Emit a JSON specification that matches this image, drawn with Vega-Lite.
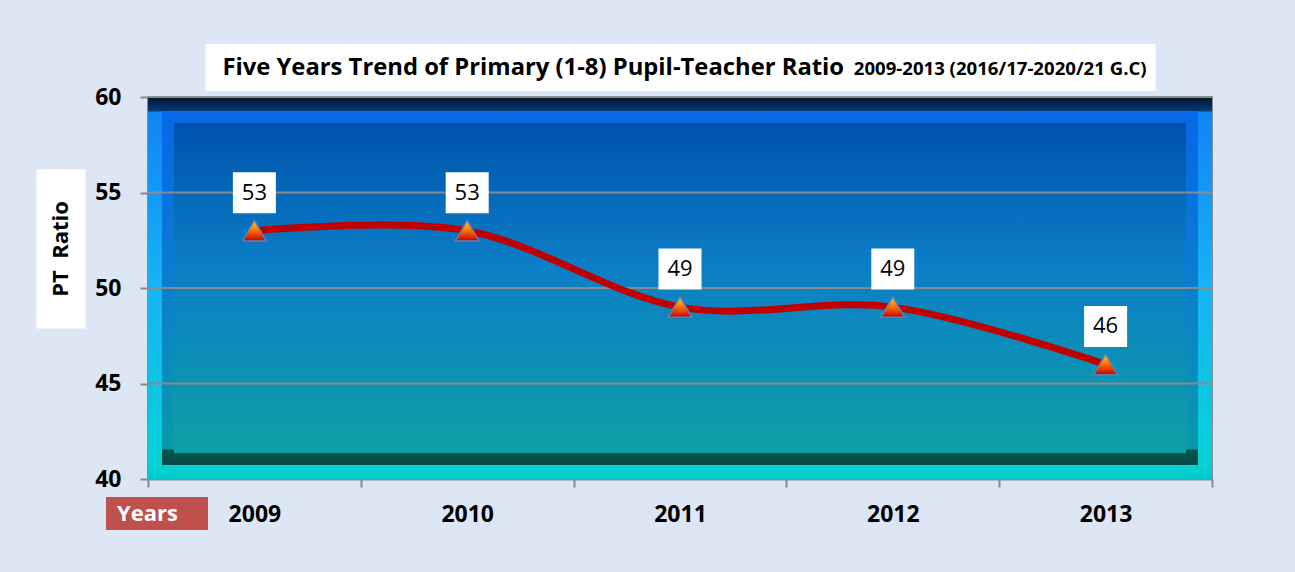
{
  "$schema": "https://vega.github.io/schema/vega-lite/v6.json",
  "width": 1064,
  "height": 382,
  "autosize": {"type": "none"},
  "padding": {"left": 148, "top": 97, "right": 83, "bottom": 93},
  "background": "#dce6f5",
  "config": {
    "view": {"stroke": "#8a8a8a", "strokeWidth": 2},
    "font": "Open Sans"
  },
  "datasets": {
    "ptr": [
      {"year": "2009", "ratio": 53},
      {"year": "2010", "ratio": 53},
      {"year": "2011", "ratio": 49},
      {"year": "2012", "ratio": 49},
      {"year": "2013", "ratio": 46}
    ],
    "grid": [{"v": 45}, {"v": 50}, {"v": 55}, {"v": 60}]
  },
  "layer": [
    {
      "data": {"values": [{"panel": "plot"}]},
      "mark": {
        "type": "rect",
        "clip": true,
        "strokeWidth": 52,
        "fill": {"gradient": "linear", "x1": 0, "y1": 0, "x2": 0, "y2": 1,
          "stops": [
            {"offset": 0, "color": "#004a9e"},
            {"offset": 0.07, "color": "#0052ad"},
            {"offset": 0.45, "color": "#0b7fc6"},
            {"offset": 0.93, "color": "#0e9fa6"},
            {"offset": 1, "color": "#0e9fa6"}
          ]},
        "stroke": {"gradient": "linear", "x1": 0, "y1": 0, "x2": 0, "y2": 1,
          "stops": [
            {"offset": 0, "color": "#0a6ff2"},
            {"offset": 0.07, "color": "#0868e6"},
            {"offset": 0.5, "color": "#0a7ecf"},
            {"offset": 0.92, "color": "#0a9aa8"},
            {"offset": 0.925, "color": "#06544e"},
            {"offset": 1, "color": "#043f3b"}
          ]}
      },
      "encoding": {
        "y": {"datum": 60, "type": "quantitative"},
        "y2": {"datum": 40}
      }
    },
    {
      "data": {"values": [{"panel": "frame"}]},
      "mark": {
        "type": "rect",
        "clip": true,
        "strokeWidth": 28,
        "fill": null,
        "fillOpacity": 0,
        "stroke": {"gradient": "linear", "x1": 0, "y1": 0, "x2": 0, "y2": 1,
          "stops": [
            {"offset": 0, "color": "#00142e"},
            {"offset": 0.036, "color": "#093a76"},
            {"offset": 0.04, "color": "#1184f5"},
            {"offset": 0.5, "color": "#16b4f5"},
            {"offset": 0.96, "color": "#05d2d8"},
            {"offset": 1, "color": "#00c8c8"}
          ]}
      },
      "encoding": {
        "y": {"datum": 60, "type": "quantitative"},
        "y2": {"datum": 40}
      }
    },
    {
      "data": {"name": "grid"},
      "mark": {"type": "rule", "color": "#8a8a8a", "strokeWidth": 2},
      "encoding": {"y": {"field": "v", "type": "quantitative"}}
    },
    {
      "data": {"name": "ptr"},
      "mark": {"type": "line", "interpolate": "cardinal", "color": "#c00000", "strokeWidth": 7},
      "encoding": {
        "x": {
          "field": "year", "type": "ordinal",
          "scale": {"paddingInner": 0, "paddingOuter": 0},
          "axis": {
            "title": null,
            "labelAngle": 0,
            "tickBand": "extent",
            "labelFont": "Open Sans",
            "labelFontSize": 23,
            "labelFontWeight": "bold",
            "labelColor": "#000000",
            "labelPadding": 16,
            "tickSize": 8,
            "tickWidth": 2,
            "tickColor": "#8a8a8a",
            "domainColor": "#8a8a8a",
            "domainWidth": 2
          }
        },
        "y": {
          "field": "ratio", "type": "quantitative",
          "scale": {"domain": [40, 60], "nice": false, "zero": false},
          "axis": {
            "title": null,
            "values": [40, 45, 50, 55, 60],
            "grid": false,
            "labelFont": "Open Sans",
            "labelFontSize": 23,
            "labelFontWeight": "bold",
            "labelColor": "#000000",
            "labelPadding": 19,
            "tickSize": 8,
            "tickWidth": 2,
            "tickColor": "#8a8a8a",
            "domainColor": "#8a8a8a",
            "domainWidth": 2
          }
        }
      }
    },
    {
      "data": {"name": "ptr"},
      "mark": {
        "type": "point",
        "shape": "triangle-up",
        "size": 560,
        "filled": true,
        "opacity": 1,
        "fill": {"gradient": "linear", "x1": 0, "y1": 0, "x2": 0, "y2": 1,
          "stops": [
            {"offset": 0, "color": "#ffd21a"},
            {"offset": 0.45, "color": "#ff7a00"},
            {"offset": 1, "color": "#c80000"}
          ]},
        "stroke": "#5f7fb8",
        "strokeWidth": 1.5
      },
      "encoding": {
        "x": {"field": "year", "type": "ordinal"},
        "y": {"field": "ratio", "type": "quantitative"}
      }
    },
    {
      "data": {"name": "ptr"},
      "mark": {
        "type": "point",
        "shape": "M-1,-0.953L1,-0.953L1,0.953L-1,0.953Z",
        "size": 1849,
        "filled": true,
        "opacity": 1,
        "color": "#ffffff",
        "yOffset": -38
      },
      "encoding": {
        "x": {"field": "year", "type": "ordinal"},
        "y": {"field": "ratio", "type": "quantitative"}
      }
    },
    {
      "data": {"name": "ptr"},
      "mark": {
        "type": "text",
        "font": "Open Sans",
        "fontSize": 22,
        "color": "#000000",
        "baseline": "middle",
        "align": "center",
        "yOffset": -38
      },
      "encoding": {
        "x": {"field": "year", "type": "ordinal"},
        "y": {"field": "ratio", "type": "quantitative"},
        "text": {"field": "ratio", "type": "quantitative"}
      }
    },
    {
      "data": {"values": [{"box": "title"}]},
      "mark": {
        "type": "point",
        "shape": "M-1,-0.0495L1,-0.0495L1,0.0495L-1,0.0495Z",
        "size": 902500,
        "filled": true,
        "opacity": 1,
        "color": "#ffffff",
        "xOffset": 0.6,
        "yOffset": -29.5
      },
      "encoding": {
        "x": {"datum": "2011"},
        "y": {"datum": 60}
      }
    },
    {
      "data": {"values": [{"t": "Five Years Trend of Primary (1-8) Pupil-Teacher Ratio"}]},
      "mark": {
        "type": "text",
        "font": "Open Sans",
        "fontSize": 23.8,
        "fontWeight": "bold",
        "color": "#000000",
        "align": "left",
        "baseline": "middle",
        "xOffset": -32,
        "yOffset": -29
      },
      "encoding": {
        "x": {"datum": "2009"},
        "y": {"datum": 60},
        "text": {"field": "t"}
      }
    },
    {
      "data": {"values": [{"t": "2009-2013 (2016/17-2020/21 G.C)"}]},
      "mark": {
        "type": "text",
        "font": "Open Sans",
        "fontSize": 18.6,
        "fontWeight": "bold",
        "color": "#000000",
        "align": "right",
        "baseline": "middle",
        "xOffset": 41,
        "yOffset": -28.5
      },
      "encoding": {
        "x": {"datum": "2013"},
        "y": {"datum": 60},
        "text": {"field": "t"}
      }
    },
    {
      "data": {"values": [{"box": "years"}]},
      "mark": {
        "type": "point",
        "shape": "M-1,-0.3235L1,-0.3235L1,0.3235L-1,0.3235Z",
        "size": 10404,
        "filled": true,
        "opacity": 1,
        "color": "#c0504d",
        "xOffset": -97.4,
        "yOffset": 34.5
      },
      "encoding": {
        "x": {"datum": "2009"},
        "y": {"datum": 40}
      }
    },
    {
      "data": {"values": [{"t": "Years"}]},
      "mark": {
        "type": "text",
        "font": "Open Sans",
        "fontSize": 22,
        "fontWeight": "bold",
        "color": "#ffffff",
        "align": "left",
        "baseline": "middle",
        "xOffset": -137.4,
        "yOffset": 35
      },
      "encoding": {
        "x": {"datum": "2009"},
        "y": {"datum": 40},
        "text": {"field": "t"}
      }
    },
    {
      "data": {"values": [{"box": "ylabel"}]},
      "mark": {
        "type": "point",
        "shape": "M-0.308,-1L0.308,-1L0.308,1L-0.308,1Z",
        "size": 25281,
        "filled": true,
        "opacity": 1,
        "color": "#ffffff",
        "xOffset": -193.4,
        "yOffset": -39
      },
      "encoding": {
        "x": {"datum": "2009"},
        "y": {"datum": 50}
      }
    },
    {
      "data": {"values": [{"t": "PT \u00a0Ratio"}]},
      "mark": {
        "type": "text",
        "font": "Open Sans",
        "fontSize": 22,
        "fontWeight": "bold",
        "color": "#000000",
        "align": "center",
        "baseline": "middle",
        "angle": 270,
        "xOffset": -193.4,
        "yOffset": -39
      },
      "encoding": {
        "x": {"datum": "2009"},
        "y": {"datum": 50},
        "text": {"field": "t"}
      }
    }
  ]
}
